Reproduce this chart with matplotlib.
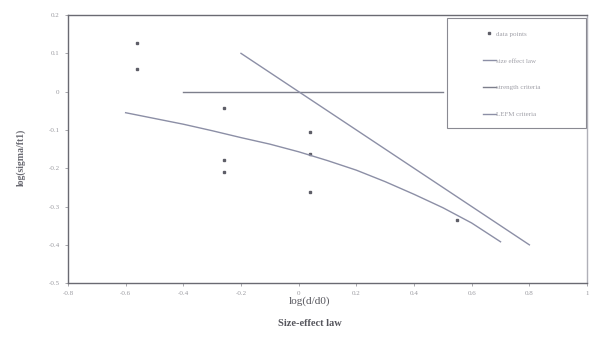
import numpy as np
import matplotlib.pyplot as plt
from matplotlib.patches import Rectangle

# data
data_x = [-0.56, -0.56, -0.26, -0.26, -0.26, 0.04, 0.04, 0.04, 0.55]
data_y = [0.127, 0.059, -0.043, -0.179, -0.21, -0.105, -0.163, -0.262, -0.335]

law_x = [-0.6, -0.5, -0.4, -0.3, -0.2, -0.1, 0.0, 0.1, 0.2, 0.3, 0.4, 0.5, 0.6, 0.7]
law_y = [-0.055, -0.07, -0.085, -0.102, -0.12, -0.137, -0.157, -0.18, -0.205,
         -0.235, -0.268, -0.303, -0.343, -0.392]

strength_x = [-0.4, 0.5]
strength_y = [0.0, 0.0]

lefm_x = [-0.2, 0.8]
lefm_y = [0.1, -0.4]

labels = ["data points", "size effect law", "strength criteria", "LEFM criteria"]

plt.rcParams['font.family'] = ['Liberation Serif', 'DejaVu Serif']

line_col = "#8c8fa6"
fig = plt.figure(figsize=(5.96, 3.5), dpi=100)
ax = fig.add_axes([0.114, 0.191, 0.871, 0.766])

ax.plot(data_x, data_y, 's', ms=1.8, color="#5e5e68", label=labels[0])
ax.plot(law_x, law_y, color=line_col, lw=1.0, label=labels[1])
ax.plot(strength_x, strength_y, color="#7d7f8c", lw=1.0, label=labels[2])
ax.plot(lefm_x, lefm_y, color=line_col, lw=1.0, label=labels[3])

ax.set_xlim(-0.8, 1.0)
ax.set_ylim(-0.5, 0.2)
ax.set_xticks(np.arange(-0.8, 1.01, 0.2))
ax.set_yticks(np.arange(-0.5, 0.21, 0.1))
ax.set_xticklabels(["-0.8", "-0.6", "-0.4", "-0.2", "0", "0.2", "0.4", "0.6", "0.8", "1"])
ax.set_yticklabels(["-0.5", "-0.4", "-0.3", "-0.2", "-0.1", "0", "0.1", "0.2"])
ax.tick_params(labelsize=5, colors="#9a9aa0", length=2.5, width=0.6)

for s in ax.spines.values():
    s.set_color("#6a6a72")
    s.set_linewidth(1.0)
ax.spines['right'].set_color("#b0b0b8")

# legend frame drawn as a box, legend entries inside it
box = Rectangle((0.73, 0.578), 0.268, 0.411, transform=ax.transAxes,
                facecolor="white", edgecolor="#8a8a92", lw=0.8, zorder=4)
ax.add_patch(box)
leg = ax.legend(loc="center", bbox_to_anchor=(0.855, 0.78), fontsize=5,
                frameon=False, labelspacing=3.0, handlelength=1.8,
                borderpad=0.0, handletextpad=0.1)
leg.set_zorder(5)
for t in leg.get_texts():
    t.set_color("#a0a0a8")

fig.text(0.035, 0.55, "log(sigma/ft1)", rotation=90, ha="center", va="center",
         fontsize=7, fontweight="bold", color="#6a6a72")
fig.text(0.52, 0.14, "log(d/d0)", ha="center", va="center", fontsize=8, color="#55555c")
fig.text(0.52, 0.075, "Size-effect law", ha="center", va="center", fontsize=7.5,
         fontweight="bold", color="#55555c")

fig.savefig("out.png", dpi=100)
